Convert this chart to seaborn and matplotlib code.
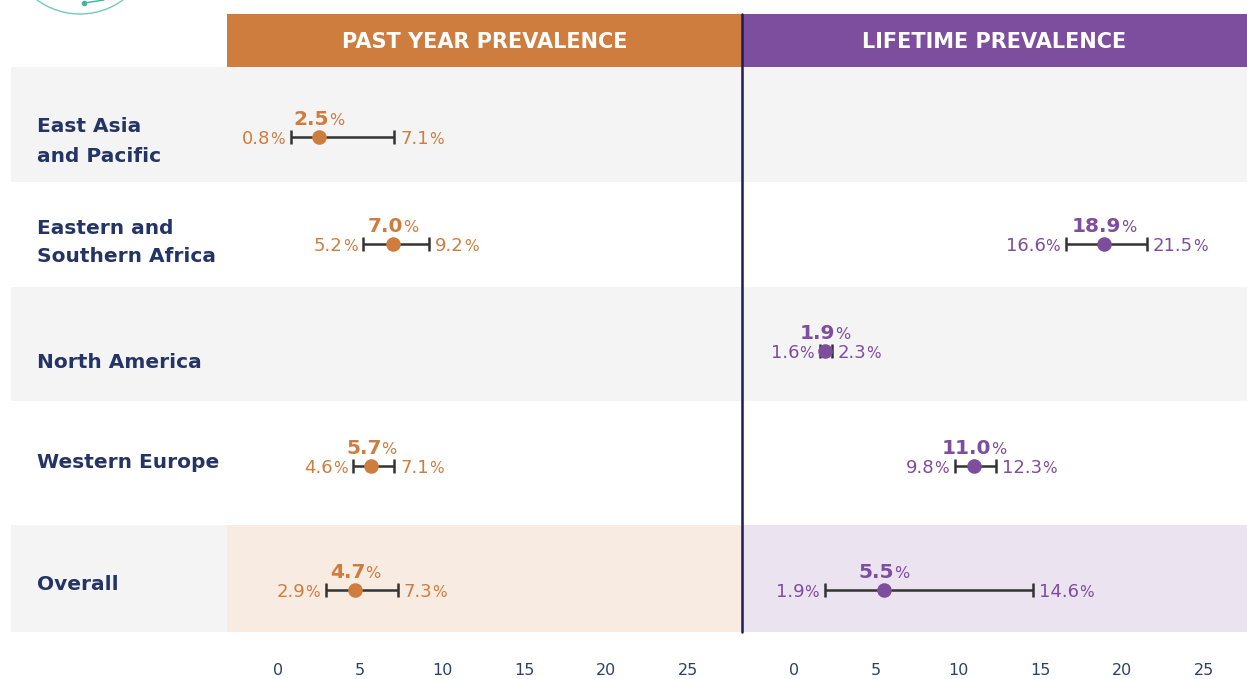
import matplotlib
matplotlib.use("Agg")
import matplotlib.pyplot as plt
import seaborn as sns
import pandas as pd
import numpy as np
from matplotlib.patches import Rectangle, Circle

# ---------------- data ----------------
regions = ["East Asia\nand Pacific", "Eastern and\nSouthern Africa", "North America",
           "Western Europe", "Overall"]
past_year = [2.5, 7.0, np.nan, 5.7, 4.7]
past_year_low = [0.8, 5.2, np.nan, 4.6, 2.9]
past_year_high = [7.1, 9.2, np.nan, 7.1, 7.3]
lifetime = [np.nan, 18.9, 1.9, 11.0, 5.5]
lifetime_low = [np.nan, 16.6, 1.6, 9.8, 1.9]
lifetime_high = [np.nan, 21.5, 2.3, 12.3, 14.6]
panel_titles = ["PAST YEAR PREVALENCE", "LIFETIME PREVALENCE"]
xticks = [0, 5, 10, 15, 20, 25]

# ---------------- style / layout ----------------
sns.set_theme(style="white")
FONT = ["DejaVu Sans"]
plt.rcParams["font.family"] = FONT

W, H = 1247, 679
ORANGE = "#CF7D3F"
PURPLE = "#7D4E9D"
NAVY = "#243466"
TICK = "#2f3f6b"
GREY = "#f4f4f4"
PEACH = "#f7ebe2"
LAV = "#ebe3f0"
BAR = "#333333"

row_edges = [67, 182, 287, 401, 525, 632]
point_px = [137, 244, 351, 466, 590]       # vertical pixel position of each row's marks
label_px = [125, 226, 361, 461, 582]       # vertical pixel position of first label line
label_lead = 29
header_top, header_bot = 14, 67
panels_px = [(227, 742), (742, 1247)]
zero_px = [278, 794]
px_per_unit = 16.4

fig = plt.figure(figsize=(W / 100, H / 100), dpi=100)
fig.patch.set_facecolor("white")

bg = fig.add_axes([0, 0, 1, 1])
bg.set_xlim(0, W)
bg.set_ylim(H, 0)
bg.axis("off")

# logo fragment
bg.add_patch(Circle((80, -59), 73, fill=False, ec="#6fcdb8", lw=1.0, zorder=1))
bg.plot([84, 104], [3, 0], color="#3fb59c", lw=1.0)
bg.plot([84], [3], "o", color="#3fb59c", ms=3)

# row bands
for i in range(len(regions)):
    y0, y1 = row_edges[i], row_edges[i + 1]
    if i % 2 == 0:
        bg.add_patch(Rectangle((11, y0), W - 11, y1 - y0, color=GREY, lw=0, zorder=0))
y0, y1 = row_edges[-2], row_edges[-1]
bg.add_patch(Rectangle((panels_px[0][0], y0), panels_px[0][1] - panels_px[0][0], y1 - y0,
                       color=PEACH, lw=0, zorder=0.5))
bg.add_patch(Rectangle((panels_px[1][0], y0), panels_px[1][1] - panels_px[1][0], y1 - y0,
                       color=LAV, lw=0, zorder=0.5))

# headers
for (x0, x1), col, title in zip(panels_px, [ORANGE, PURPLE], panel_titles):
    bg.add_patch(Rectangle((x0, header_top), x1 - x0, header_bot - header_top, color=col, lw=0))
    bg.text((x0 + x1) / 2, 41 + 7.5, title, color="white",
            fontsize=15, fontweight="bold", ha="center", va="baseline")

# divider
bg.plot([panels_px[0][1]] * 2, [header_top, row_edges[-1]], color="#1c1c5c", lw=1.8, zorder=5)

# region labels
for i, name in enumerate(regions):
    for k, line in enumerate(name.split("\n")):
        bg.text(37, label_px[i] + k * label_lead + 7.5, line, color=NAVY, fontsize=14.5,
                fontweight="bold", ha="left", va="baseline")

renderer = fig.canvas.get_renderer()


def rich(ax, x, y, parts, ha="center", dx=0, dy=0, color="k", kern=0):
    widths = []
    for s, size, wt in parts:
        t = fig.text(0, 0, s, fontsize=size, fontweight=wt)
        widths.append(t.get_window_extent(renderer).width + kern)
        t.remove()
    total = sum(widths) - kern
    start = {"center": -total / 2, "right": -total, "left": 0}[ha] + dx
    for (s, size, wt), w in zip(parts, widths):
        ax.annotate(s, (x, y), xytext=(start, dy), textcoords="offset pixels",
                    ha="left", va="baseline", fontsize=size, fontweight=wt, color=color,
                    zorder=6, annotation_clip=False)
        start += w


series = [(past_year, past_year_low, past_year_high, ORANGE),
          (lifetime, lifetime_low, lifetime_high, PURPLE)]

for p, ((x0, x1), z, (vals, lo, hi, col)) in enumerate(zip(panels_px, zero_px, series)):
    ax = fig.add_axes([x0 / W, 1 - row_edges[-1] / H, (x1 - x0) / W,
                       (row_edges[-1] - row_edges[0]) / H])
    ax.set_facecolor("none")
    ax.set_xlim((x0 - z) / px_per_unit, (x1 - z) / px_per_unit)
    ax.set_ylim(row_edges[-1], row_edges[0])
    for s in ax.spines.values():
        s.set_visible(False)

    df = pd.DataFrame({"region": regions, "y": point_px, "v": vals, "lo": lo, "hi": hi}).dropna()
    ax.errorbar(df["v"], df["y"], xerr=[df["v"] - df["lo"], df["hi"] - df["v"]], fmt="none",
                ecolor=BAR, elinewidth=1.8, capsize=5, capthick=1.8, zorder=3)
    sns.scatterplot(data=df, x="v", y="y", ax=ax, color=col, s=110, edgecolor=col,
                    linewidth=0, zorder=4, legend=False)
    ax.set_xlabel("")
    ax.set_ylabel("")
    ax.set_yticks([])
    ax.set_xticks(xticks)
    ax.set_xticklabels([str(t) for t in xticks])
    ax.tick_params(axis="x", length=0, pad=22, labelsize=11.5, labelcolor=TICK)
    for _, r in df.iterrows():
        rich(ax, r["v"], r["y"], [(f"{r['v']:.1f}", 14.5, "bold"), ("%", 11.5, "normal")],
             ha="center", dy=12, color=col, kern=0)
        rich(ax, r["lo"], r["y"], [(f"{r['lo']:.1f}", 13, "normal"), ("%", 11, "normal")],
             ha="right", dx=-6, dy=-6.5, color=col, kern=0)
        rich(ax, r["hi"], r["y"], [(f"{r['hi']:.1f}", 13, "normal"), ("%", 11, "normal")],
             ha="left", dx=6, dy=-6.5, color=col, kern=0)

fig.savefig("out.png", dpi=100, facecolor="white")
